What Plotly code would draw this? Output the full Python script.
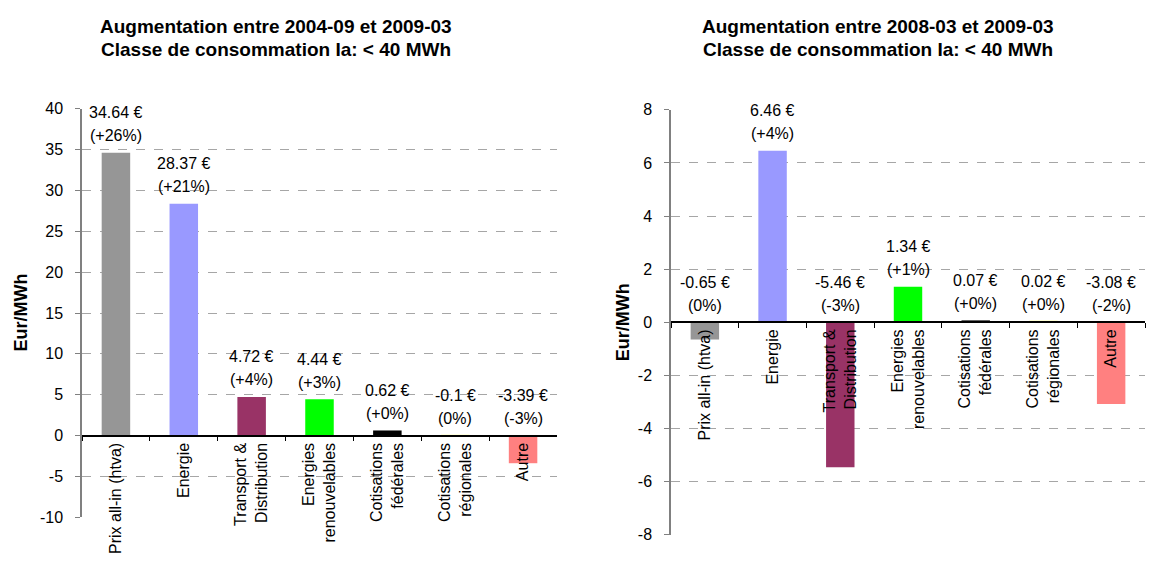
import plotly.graph_objects as go

W, H = 1154, 565

categories = ["Prix all-in (htva)", "Energie", "Transport &<br>Distribution",
              "Energies<br>renouvelables", "Cotisations<br>fédérales",
              "Cotisations<br>régionales", "Autre"]
colors = ["#969696", "#9999FF", "#993366", "#00FF00", "#000000", "#FFFF00", "#FF8080"]

left_values = [34.64, 28.37, 4.72, 4.44, 0.62, -0.1, -3.39]
left_pcts = ["(+26%)", "(+21%)", "(+4%)", "(+3%)", "(+0%)", "(0%)", "(-3%)"]
left_title = ["Augmentation entre 2004-09 et 2009-03", "Classe de consommation Ia: < 40 MWh"]
left_ticks = [-10, -5, 0, 5, 10, 15, 20, 25, 30, 35, 40]

right_values = [-0.65, 6.46, -5.46, 1.34, 0.07, 0.02, -3.08]
right_pcts = ["(0%)", "(+4%)", "(-3%)", "(+1%)", "(+0%)", "(+0%)", "(-2%)"]
right_title = ["Augmentation entre 2008-03 et 2009-03", "Classe de consommation Ia: < 40 MWh"]
right_ticks = [-8, -6, -4, -2, 0, 2, 4, 6, 8]

y_title = "Eur/MWh"

FONT = "Liberation Sans, Arial, sans-serif"

def px_x(p):
    return p / W

def px_y(p):
    return 1 - p / H

fig = go.Figure()
fig.add_trace(go.Bar(x=categories, y=left_values, marker=dict(color=colors, line=dict(width=0)),
                     xaxis="x", yaxis="y", showlegend=False, hoverinfo="x+y"))
fig.add_trace(go.Bar(x=categories, y=right_values, marker=dict(color=colors, line=dict(width=0)),
                     xaxis="x2", yaxis="y2", showlegend=False, hoverinfo="x+y"))

annotations = []
for xr, yr, vals, pcts in [("x", "y", left_values, left_pcts), ("x2", "y2", right_values, right_pcts)]:
    for c, v, p in zip(categories, vals, pcts):
        base = max(v, 0)
        annotations.append(dict(x=c, y=base, xref=xr, yref=yr, text=f"{v:g} €", showarrow=False,
                                yanchor="middle", yshift=40, font=dict(size=16, color="black", family=FONT)))
        annotations.append(dict(x=c, y=base, xref=xr, yref=yr, text=p, showarrow=False,
                                yanchor="middle", yshift=17, font=dict(size=16, color="black", family=FONT)))

for cx, lines in [(276, left_title), (878, right_title)]:
    for i, t in enumerate(lines):
        annotations.append(dict(x=px_x(cx), y=px_y(19 + 24 * i), xref="paper", yref="paper", text=f"<b>{t}</b>",
                                showarrow=False, xanchor="center", yanchor="middle",
                                font=dict(size=19, color="black", family=FONT)))

for cx, cy in [(21, 314), (623, 324)]:
    annotations.append(dict(x=px_x(cx), y=px_y(cy), xref="paper", yref="paper", text=f"<b>{y_title}</b>",
                            showarrow=False, textangle=-90, xanchor="center", yanchor="middle",
                            font=dict(size=18, color="black", family=FONT)))

def xaxis_cfg(x0, x1, zero_px):
    return dict(domain=[px_x(x0), px_x(x1)], anchor="free", position=px_y(zero_px),
                type="category", showline=True, linecolor="black", linewidth=1.5,
                ticks="outside", tickson="boundaries", ticklen=5, tickcolor="black",
                tickangle=-90, showgrid=False, zeroline=False,
                tickfont=dict(size=16, color="black", family=FONT))

def yaxis_cfg(anchor, y_top, y_bot, ticks):
    return dict(domain=[px_y(y_bot), px_y(y_top)], anchor=anchor, range=[ticks[0], ticks[-1]],
                tickmode="array", tickvals=ticks, ticktext=[str(t) for t in ticks],
                showline=True, linecolor="#808080", linewidth=1.5, ticks="outside", ticklen=5,
                tickcolor="#808080", showgrid=True, gridcolor="#A6A6A6", griddash="dash",
                gridwidth=1, zeroline=False, ticklabelstandoff=9,
                tickfont=dict(size=16, color="black", family=FONT))

fig.update_layout(
    width=W, height=H,
    margin=dict(l=0, r=0, t=0, b=0),
    paper_bgcolor="white", plot_bgcolor="white",
    bargap=0.58,
    xaxis=xaxis_cfg(82, 557, 441),
    yaxis=yaxis_cfg("x", 104, 525, left_ticks),
    xaxis2=xaxis_cfg(671, 1145, 324),
    yaxis2=yaxis_cfg("x2", 105, 543, right_ticks),
    annotations=annotations,
    font=dict(family=FONT, color="black"),
)

fig.write_html("out.html")
